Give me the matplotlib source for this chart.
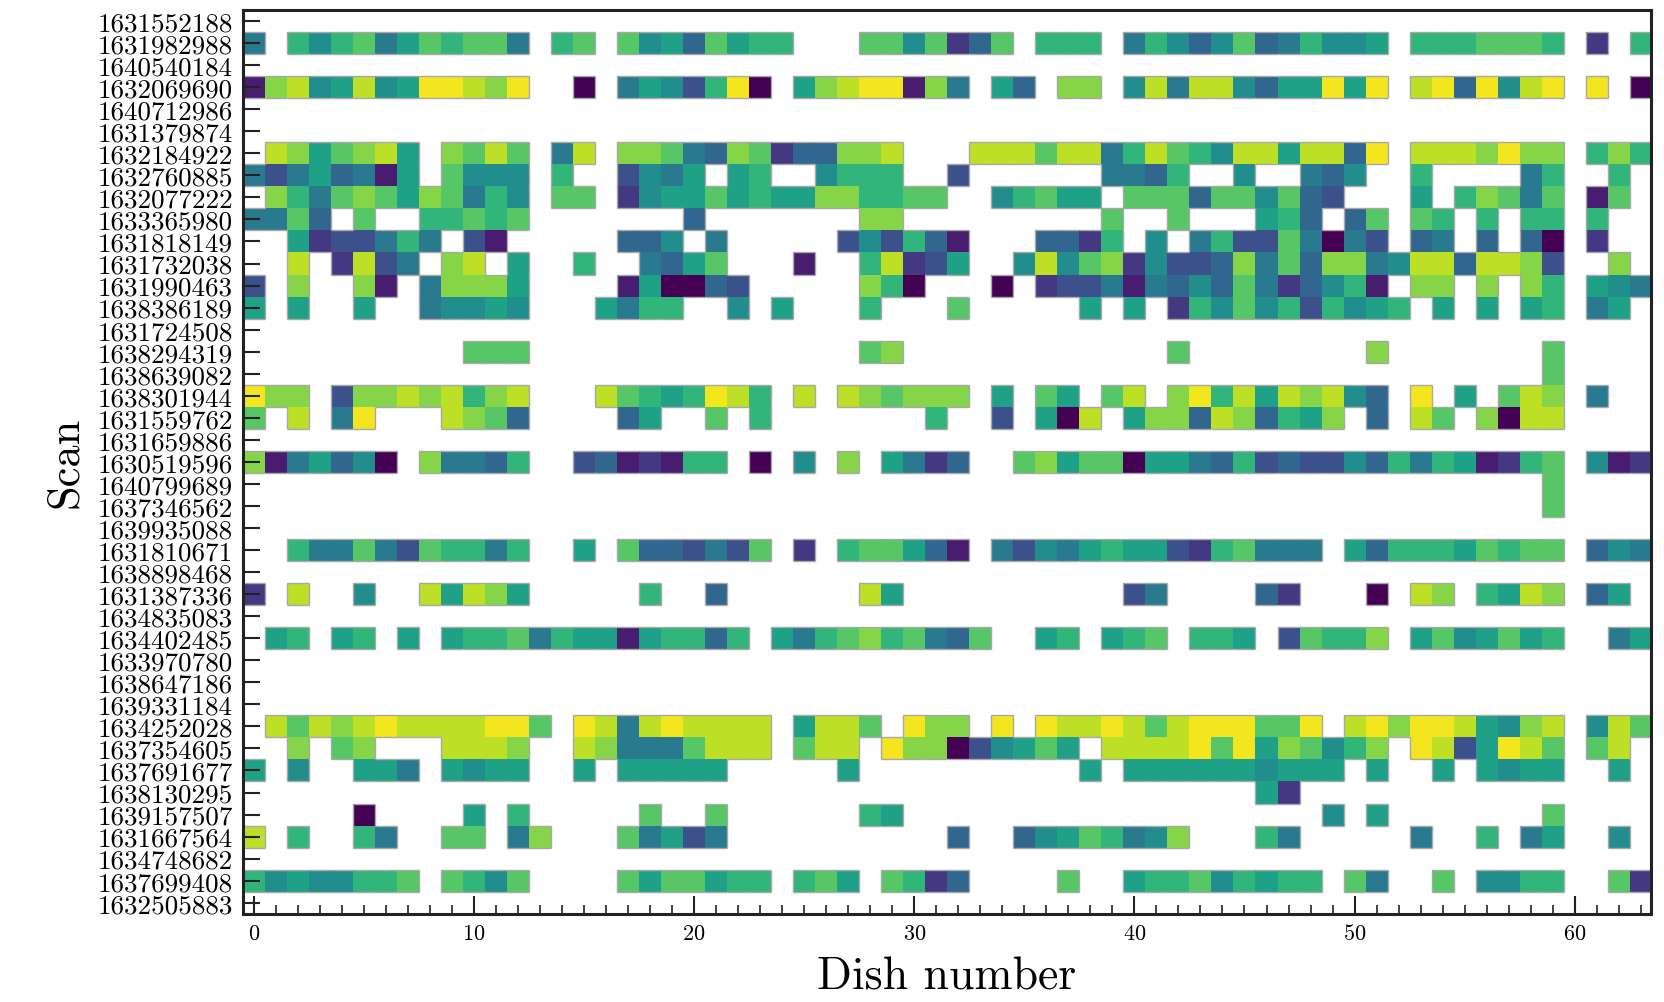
import numpy as np
import matplotlib
matplotlib.use("Agg")
import matplotlib.pyplot as plt
from matplotlib.collections import LineCollection
from matplotlib.ticker import MultipleLocator

plt.rcParams['font.family'] = 'cmr10'
plt.rcParams['mathtext.fontset'] = 'cm'
plt.rcParams['axes.formatter.use_mathtext'] = True

scans = [
    "1631552188", "1631982988", "1640540184", "1632069690", "1640712986",
    "1631379874", "1632184922", "1632760885", "1632077222", "1633365980",
    "1631818149", "1631732038", "1631990463", "1638386189", "1631724508",
    "1638294319", "1638639082", "1638301944", "1631559762", "1631659886",
    "1630519596", "1640799689", "1637346562", "1639935088", "1631810671",
    "1638898468", "1631387336", "1634835083", "1634402485", "1633970780",
    "1638647186", "1639331184", "1634252028", "1637354605", "1637691677",
    "1638130295", "1639157507", "1631667564", "1634748682", "1637699408",
    "1632505883",
]

n_dishes = 64
empty = "." * n_dishes

# one string per scan, one character per dish (0..63):
# '.' = no data, '0'..'9','a'..'c' = level 0..12
levels = [
    empty,
    "5.86895798995.89" ".96749788...9969" "249.888.58646945" "8667.8889998.2.8",
    empty,
    "1ab67b67ccbac..0" ".57638c0.7abcc1a" "5.74.aa.6b5bb647" "7c7c.bc4c6bc.c.0",
    empty,
    empty,
    ".ba79ab7.a9b9.5b" ".aa954a9244aab.." ".bbb9bb58b986bb7" "bb4c.bbbacaa.8a8",
    "53574517.9666.8." ".3657.78..6888.." "3......5548..6.." "546..8....58..8.",
    ".a859a97a9586.99" ".267797877aa8899" "..68977.99949969" "43...7.8a959.19.",
    "5594.9..88989..." "....4.......aa.." ".......9..9...78" "4.49.98.8.88.8..",
    "..7233585.31...." ".446.5.....36384" "1...4428.6.58339" "5053.45.4.40.2..",
    "..b.2b35.ab.7..8" "..5479...1..8b23" "7..6b69a26334a59" "4aa56bb4bba3..a.",
    "3.a..a1.5aaa7..." ".170043.....a80." "..0.233515464952" "4681.aa.a.a8.765",
    "7.7..7..56676..." "7588..6.7...8..." "9.....7.7.286968" "38678.7.7.78.57.",
    empty,
    "..........999..." "............9a.." "..........9....." "...a.......9....",
    "................" "................" "................" "...........9....",
    "caa.3aabab8ab..." "b9878cb8.b.ba9aa" "a.7.97.9b.ac8b7b" "ab64.c.7.9ba.5..",
    "9.b.5c...ba94..." ".47..9.8.......8" "..3.70b.7aa4ba48" "7a.4.b9.a0bb....",
    empty,
    "a157460.a5548..3" "412188.0.6.a.752" "4..9a79907754834" "336485871289.612",
    "................" "................" "................" "...........9....",
    "................" "................" "................" "...........9....",
    empty,
    "..85595398858..7" ".9443539.2.89974" "1.53657877328955" "5.7488879899.465",
    empty,
    "2.b..6..b7ba7..." "..8..4......b7.." "........35....42" "...0.ba.87ba.47.",
    empty,
    ".78.78.7.7889587" "7178848.7589a895" "49..78.789.887.3" "988a.7967978..57",
    empty,
    empty,
    empty,
    ".b9babcbbbbcc9.c" "b5bcbbbb.7bb9.ca" "a.c.cbbcb9bccc99" "c.bcaccb76ab.6b9",
    "..a.9a...bbba..b" "a5559bbb.9bb.caa" "036797.bbbbc9c7a" "968a.cb37cb9.9b.",
    "7.6..775.7677..7" ".77777.....7...." "......7.77777767" "77.7..7.7677..7.",
    "................" "................" "..............72" "................",
    ".....0....7.8..." "..9..9......87.." "................" ".6.7.......9....",
    "b.8..85..99.5a.." ".95735.........." "4..4679856a...85" ".....5..8.57..6.",
    empty,
    "86766889.9869..." ".9799788.897.982" "4....9..78896878" "8.95..9.6688..92",
    empty,
]

vals = np.full((len(scans), n_dishes), np.nan)
for i, row in enumerate(levels):
    for j, ch in enumerate(row):
        if ch != ".":
            vals[i, j] = int(ch, 16)

fig = plt.figure(figsize=(16.65, 10.03), dpi=100)
ax = fig.add_axes([0.1458, 0.088, 0.9914 - 0.1458, 0.989 - 0.088])

xe = np.arange(n_dishes + 1) - 0.5
ye = np.arange(len(scans) + 1) - 0.5
ax.pcolormesh(xe, ye, np.ma.masked_invalid(vals), cmap="viridis",
              vmin=0, vmax=12.2, shading="flat")

# grey outline wherever a measured cell meets a missing one
filled = ~np.isnan(vals)
segs = []
nr, nc = filled.shape
for i in range(nr):
    for j in range(nc):
        if not filled[i, j]:
            continue
        if i == 0 or not filled[i - 1, j]:
            segs.append([(j - 0.5, i - 0.5), (j + 0.5, i - 0.5)])
        if i == nr - 1 or not filled[i + 1, j]:
            segs.append([(j - 0.5, i + 0.5), (j + 0.5, i + 0.5)])
        if j == 0 or not filled[i, j - 1]:
            segs.append([(j - 0.5, i - 0.5), (j - 0.5, i + 0.5)])
        if j == nc - 1 or not filled[i, j + 1]:
            segs.append([(j + 0.5, i - 0.5), (j + 0.5, i + 0.5)])
ax.add_collection(LineCollection(segs, colors="#a8a8a8", linewidths=1.0))

ax.set_xlim(-0.5, 63.45)
ax.set_ylim(len(scans) - 0.5, -0.5)

ax.set_yticks(np.arange(len(scans)))
ax.set_yticklabels(scans)
ax.xaxis.set_major_locator(MultipleLocator(10))
ax.xaxis.set_minor_locator(MultipleLocator(1))

ax.tick_params(axis="both", which="both", direction="in",
               top=False, right=False, color="#222222")
ax.tick_params(axis="y", which="major", length=12, width=1.5,
               labelsize=19.5, pad=7)
ax.tick_params(axis="x", which="major", length=13, width=1.5,
               labelsize=16, pad=7)
ax.tick_params(axis="x", which="minor", length=6.5, width=1.2)

for sp in ax.spines.values():
    sp.set_linewidth(2.2)
    sp.set_color("#222222")

ax.set_xlabel("Dish number", fontsize=33, labelpad=9)
ax.set_ylabel("Scan", fontsize=32, labelpad=8)

fig.savefig("out.png", dpi=100)
